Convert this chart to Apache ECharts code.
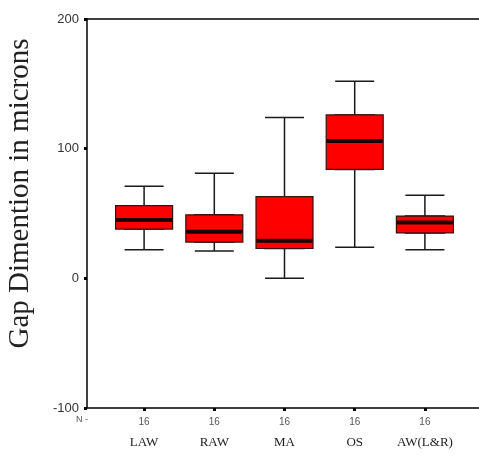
<!DOCTYPE html>
<html>
<head>
<meta charset="utf-8">
<script src="https://cdn.jsdelivr.net/npm/echarts@6/dist/echarts.min.js"></script>
<style>html,body{margin:0;padding:0;background:#fff;}#c{width:479px;height:459px;}</style>
</head>
<body>
<div id="c"></div>
<script>
var categories = ['LAW', 'RAW', 'MA', 'OS', 'AW(L&R)'];
var nCounts = ['16', '16', '16', '16', '16'];
var mins = [22, 21, 0, 24, 22];
var q1s = [38, 28, 23, 84, 35];
var medians = [45, 36, 29, 106, 43];
var q3s = [56, 49, 63, 126, 48];
var maxs = [71, 81, 124, 152, 64];
var yTicks = [-100, 0, 100, 200];

var whiskerData = categories.map(function (c, i) { return [mins[i], q1s[i], medians[i], q3s[i], maxs[i]]; });
var boxData = categories.map(function (c, i) { return [q1s[i], q1s[i], medians[i], q3s[i], q3s[i]]; });

var chart = echarts.init(document.getElementById('c'), null, { renderer: 'canvas' });
var yMin = yTicks[0], yMax = yTicks[yTicks.length - 1];

chart.setOption({
  animation: false,
  backgroundColor: '#fff',
  grid: [
    { left: 109, right: 19, top: 19, bottom: 51, containLabel: false, outerBoundsMode: 'none' },
    { left: 87, right: 0, top: 19, bottom: 51, containLabel: false, outerBoundsMode: 'none' }
  ],
  xAxis: [
    {
      type: 'category', gridIndex: 0, data: categories,
      axisLine: { show: false, onZero: false },
      axisTick: { show: true, alignWithLabel: true, length: 3, lineStyle: { width: 3, color: '#000' } },
      axisLabel: {
        margin: 8, interval: 0,
        formatter: function (v, i) { return '{n|' + nCounts[i] + '}\n{c|' + v + '}'; },
        rich: {
          n: { fontFamily: 'Liberation Sans', fontSize: 10, color: '#555', lineHeight: 12 },
          c: { fontFamily: 'Liberation Serif', fontSize: 13, color: '#222', lineHeight: 16, padding: [14, 0, 0, 0] }
        }
      },
      splitLine: { show: false }
    },
    {
      type: 'category', gridIndex: 0, data: categories, show: false
    },
    {
      type: 'value', gridIndex: 1, min: 0, max: 1, position: 'bottom',
      axisLine: { show: true, onZero: false, lineStyle: { color: '#000', width: 1.5 } },
      axisTick: { show: false }, axisLabel: { show: false }, splitLine: { show: false }
    },
    {
      type: 'value', gridIndex: 1, min: 0, max: 1, position: 'top',
      axisLine: { show: true, onZero: false, lineStyle: { color: '#000', width: 1.5 } },
      axisTick: { show: false }, axisLabel: { show: false }, splitLine: { show: false }
    }
  ],
  yAxis: [
    {
      type: 'value', gridIndex: 0, min: yMin, max: yMax, interval: 100, show: false
    },
    {
      type: 'value', gridIndex: 1, min: yMin, max: yMax, interval: 100,
      name: 'Gap Dimention in microns',
      nameLocation: 'middle',
      nameGap: 52,
      nameTextStyle: { fontFamily: 'Liberation Serif', fontSize: 29, color: '#222', padding: [0, 0, 0, 40] },
      axisLine: { show: true, onZero: false, lineStyle: { color: '#000', width: 1.5 } },
      axisTick: { show: true, length: 3, lineStyle: { width: 3, color: '#000' } },
      axisLabel: { fontFamily: 'Liberation Sans', fontSize: 13, color: '#333', margin: 8 },
      splitLine: { show: false }
    }
  ],
  graphic: [
    { type: 'text', left: 76, top: 415, style: { text: 'N -', font: '9px "Liberation Sans"', fill: '#555' } }
  ],
  series: [
    {
      type: 'boxplot', xAxisIndex: 0, yAxisIndex: 0,
      boxWidth: [39, 39],
      data: whiskerData,
      itemStyle: { color: '#ff0000', borderColor: '#1a1a1a', borderWidth: 1.5 }
    },
    {
      type: 'boxplot', xAxisIndex: 1, yAxisIndex: 0,
      boxWidth: [57, 57],
      data: boxData,
      itemStyle: { color: '#ff0000', borderColor: '#3a1010', borderWidth: 1.2 }
    },
    {
      type: 'scatter', xAxisIndex: 1, yAxisIndex: 0,
      symbol: 'rect', symbolSize: [56, 4],
      data: medians,
      itemStyle: { color: '#1a0000', opacity: 1 }
    }
  ]
});
</script>
</body>
</html>
